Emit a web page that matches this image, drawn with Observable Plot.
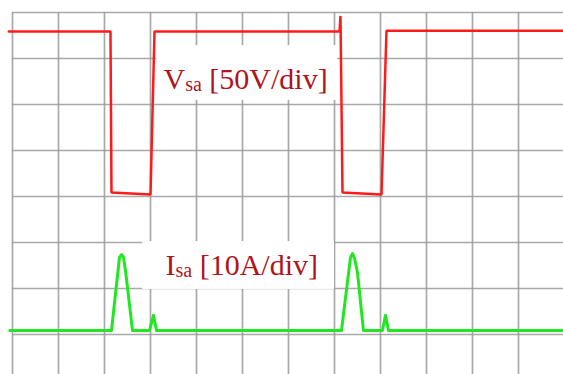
<!DOCTYPE html>
<html>
<head>
<meta charset="utf-8">
<script src="https://cdn.jsdelivr.net/npm/d3@7"></script>
<script src="https://cdn.jsdelivr.net/npm/@observablehq/plot@0.6"></script>
<style>
  html, body { margin: 0; padding: 0; background: #fff; overflow: hidden; }
  svg { overflow: hidden; display: block; }
</style>
</head>
<body>
<div id="chart"></div>
<script>
// Time in screen divisions, values in channel units
const vsaTime = [-0.08, 2.13, 2.152, 3.0, 3.087, 7.109, 7.13, 7.174, 8.022, 8.13, 11.978];
const vsaVolts = [176, 176, 1, -1, 176, 176, 193, 1, -1, 177, 177];

const isaTime = [-0.06, 2.152, 2.326, 2.37, 2.413, 2.457, 2.609, 2.978, 3.065, 3.13,
                 7.152, 7.348, 7.391, 7.435, 7.5, 7.63, 8.043, 8.109, 8.174, 11.978];
const isaAmps = [0, 0, 15.9, 16.5, 15.9, 13.0, 0, 0, 3.3, 0,
                 0, 15.9, 16.7, 15.7, 12.6, 0, 0, 3.3, 0, 0];

// channel settings (division units)
const vsaZeroDiv = 4.065, vsaPerDiv = 50;
const isaZeroDiv = 1.087, isaPerDiv = 10;

// graticule
const gridCols = d3.range(0, 12);
const gridRows = d3.range(1, 9);

// labels
const labelMain = ["V", "I"];
const labelSub = ["sa", "sa"];
const labelRest = [" [50V/div]", " [10A/div]"];
const labelT = [3.283, 3.326];
const labelDiv = [6.33, 2.283];
const boxT1 = [3.13, 2.83], boxT2 = [7.07, 7.0];
const boxDiv1 = [6.09, 1.98], boxDiv2 = [7.28, 3.02];

const vsa = vsaTime.map((t, i) => ({t, y: vsaZeroDiv + vsaVolts[i] / vsaPerDiv}));
const isa = isaTime.map((t, i) => ({t, y: isaZeroDiv + isaAmps[i] / isaPerDiv}));
const labels = labelMain.map((m, i) => ({main: m, sub: labelSub[i], rest: labelRest[i], t: labelT[i], y: labelDiv[i]}));
const boxes = boxT1.map((t1, i) => ({t1, t2: boxT2[i], y1: boxDiv1[i], y2: boxDiv2[i]}));

const xDomain = [-12 / 46, 551 / 46];
const yDomain = [6 / 46, 380 / 46];

const plot = Plot.plot({
  width: 563,
  height: 374,
  margin: 0,
  x: {domain: xDomain, range: [0, 563], axis: null},
  y: {domain: yDomain, range: [374, 0], axis: null},
  style: {background: "#fff", overflow: "hidden"},
  marks: [
    Plot.ruleX(gridCols, {x: d => d, y1: 8, y2: yDomain[0], stroke: "#9a9a9a", strokeWidth: 1.7, strokeOpacity: 0.85}),
    Plot.ruleY(gridRows, {y: d => d, x1: 0, x2: xDomain[1], stroke: "#9a9a9a", strokeWidth: 1.7, strokeOpacity: 0.85}),
    Plot.rect(boxes, {x1: "t1", x2: "t2", y1: "y1", y2: "y2", fill: "#fff"}),
    Plot.line(vsa, {x: "t", y: "y", stroke: "#ff1a1a", strokeWidth: 2.5, strokeLinejoin: "miter"}),
    Plot.line(isa, {x: "t", y: "y", stroke: "#22e622", strokeWidth: 3}),
    Plot.text(labels, {x: "t", y: "y", text: d => d.main + d.sub + d.rest, textAnchor: "start", lineAnchor: "bottom",
      fontSize: 30, fontFamily: "Liberation Serif", fill: "#b0141c"})
  ]
});

// turn the subscript part of each label into a real subscript tspan
const ns = "http://www.w3.org/2000/svg";
plot.querySelectorAll("text").forEach(el => {
  const d = labels.find(l => el.textContent === l.main + l.sub + l.rest);
  if (!d) return;
  el.textContent = "";
  const a = document.createElementNS(ns, "tspan"); a.textContent = d.main;
  const b = document.createElementNS(ns, "tspan"); b.textContent = d.sub;
  b.setAttribute("font-size", "20"); b.setAttribute("dy", "2");
  const c = document.createElementNS(ns, "tspan"); c.textContent = d.rest;
  c.setAttribute("dy", "-2");
  el.append(a, b, c);
});

document.getElementById("chart").append(plot);
</script>
</body>
</html>
